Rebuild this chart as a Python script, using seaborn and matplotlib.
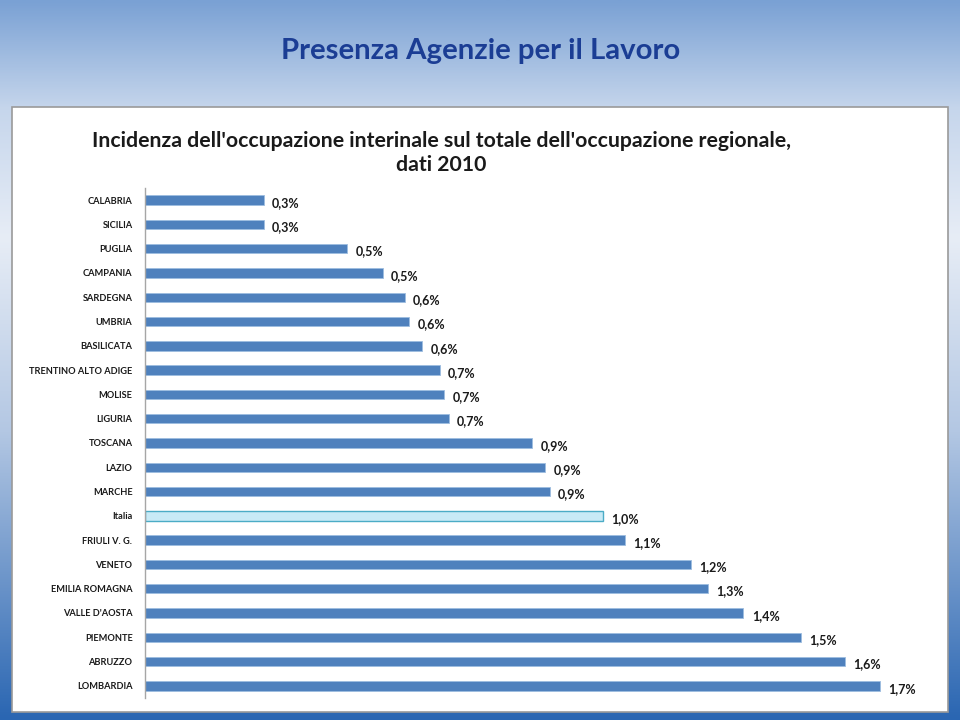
import matplotlib.pyplot as plt
import matplotlib.patches as mpatches
from matplotlib.colors import LinearSegmentedColormap
import numpy as np
import pandas as pd
import seaborn as sns

# data
regions = [
    "CALABRIA", "SICILIA", "PUGLIA", "CAMPANIA", "SARDEGNA", "UMBRIA",
    "BASILICATA", "TRENTINO ALTO ADIGE", "MOLISE", "LIGURIA", "TOSCANA",
    "LAZIO", "MARCHE", "Italia", "FRIULI V. G.", "VENETO", "EMILIA ROMAGNA",
    "VALLE D'AOSTA", "PIEMONTE", "ABRUZZO", "LOMBARDIA",
]
incidenza = [
    0.27, 0.27, 0.46, 0.54, 0.59, 0.60,
    0.63, 0.67, 0.68, 0.69, 0.88,
    0.91, 0.92, 1.04, 1.09, 1.24, 1.28,
    1.36, 1.49, 1.59, 1.67,
]

slide_title = "Presenza Agenzie per il Lavoro"
chart_title = "Incidenza dell'occupazione interinale sul totale dell'occupazione regionale,\ndati 2010"

df = pd.DataFrame({"regione": regions, "valore": incidenza})

sns.set_style("white")
plt.rcParams["font.family"] = ["Lato", "DejaVu Sans"]

fig = plt.figure(figsize=(9.6, 7.2), dpi=100)

# slide background gradient + white panel
bg = fig.add_axes([0, 0, 1, 1], zorder=-1)
bg_cmap = LinearSegmentedColormap.from_list(
    "slide",
    [(0.0, "#7aa1d4"), (0.15, "#c6d6ec"), (0.33, "#e7edf6"),
     (0.6, "#b3c7e3"), (1.0, "#2a66b2")],
)
grad = np.linspace(0, 1, 256).reshape(-1, 1)
bg.imshow(grad, cmap=bg_cmap, aspect="auto", extent=[0, 1, 0, 1], origin="upper")
bg.add_patch(mpatches.Rectangle(
    (12 / 960, 1 - 712 / 720), 936 / 960, 605 / 720,
    transform=bg.transAxes, facecolor="white", edgecolor="#9a9a9a", linewidth=1.2,
))
bg.set_xlim(0, 1)
bg.set_ylim(0, 1)
bg.set_axis_off()

fig.text(481 / 960, 1 - 51 / 720, slide_title, ha="center", va="center",
         fontsize=21.2, fontweight="bold", color="#1b3d94")
fig.text(441 / 960, 1 - 153 / 720, chart_title, ha="center", va="center",
         fontsize=15.3, fontweight="bold", color="#1a1a1a", linespacing=1.25)

ax = fig.add_axes([145 / 960, 1 - 698 / 720, (935 - 145) / 960, (698 - 188) / 720])
palette = {r: "#4f81bd" for r in regions}
palette["Italia"] = "#c8eaf6"

sns.barplot(data=df, x="valore", y="regione", hue="regione", palette=palette,
            legend=False, orient="h", width=0.39, ax=ax, saturation=1,
            edgecolor="#9dbde0", linewidth=0.6)

for bar in ax.patches:
    if np.isclose(bar.get_width(), 1.04):
        bar.set_edgecolor("#4bacc6")
        bar.set_linewidth(1.0)

for c in ax.containers:
    for t in ax.bar_label(c, fmt=lambda v: f"{v:.1f}%".replace(".", ","), padding=6,
                          fontsize=9, fontweight="bold", color="#1a1a1a"):
        t.xyann = (6, -2)

ax.set_xlim(0, (935 - 145) / 440)
ax.set_ylim(len(regions) - 0.5, -0.5)
ax.set_xlabel("")
ax.set_ylabel("")
ax.set_xticks([])
ax.tick_params(axis="y", length=0, pad=9, labelsize=6.7)
for lab in ax.get_yticklabels():
    lab.set_fontweight("bold")
    lab.set_color("#1a1a1a")
for s in ["top", "right", "bottom"]:
    ax.spines[s].set_visible(False)
ax.spines["left"].set_color("#a6a6a6")
ax.spines["left"].set_linewidth(1.0)
ax.patch.set_alpha(0)

fig.savefig("out.png", dpi=100)
